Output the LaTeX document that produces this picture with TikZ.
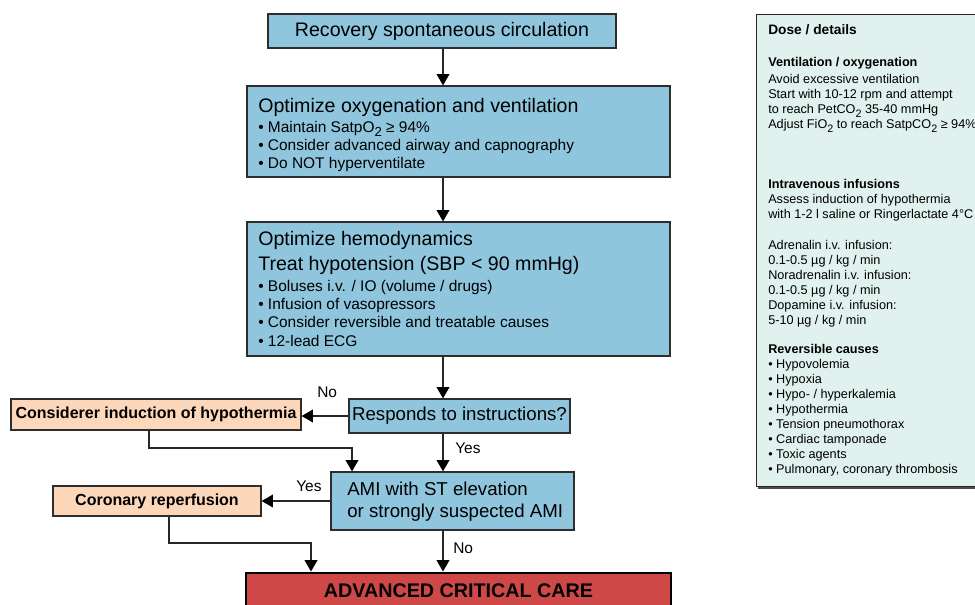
\documentclass[tikz,border=0pt]{standalone}
\usepackage{fontspec}
\setmainfont{Liberation Sans}
\usetikzlibrary{arrows.meta,calc}
\definecolor{boxblue}{RGB}{143,198,222}
\definecolor{boxpeach}{RGB}{253,215,186}
\definecolor{accred}{RGB}{207,72,72}
\definecolor{panelmint}{RGB}{225,241,238}
\definecolor{boxline}{RGB}{45,45,45}
\newcommand{\fTitle}{\fontsize{14.7pt}{17pt}\selectfont}
\newcommand{\fDec}{\fontsize{14pt}{16.5pt}\selectfont}
\newcommand{\fBul}{\fontsize{11.6pt}{13.5pt}\selectfont}
\newcommand{\fPan}{\fontsize{9.5pt}{11.4pt}\selectfont}
\newcommand{\fPanBig}{\fontsize{10.3pt}{12pt}\selectfont\bfseries}
\newcommand{\fBoldBox}{\fontsize{12pt}{14pt}\selectfont\bfseries}
\newcommand{\fAcc}{\fontsize{14.8pt}{17pt}\selectfont\bfseries}
\newcommand{\lowsub}[1]{\raisebox{-0.55ex}{\scalebox{0.85}{#1}}}
\begin{document}
\begin{tikzpicture}[x=0.75pt,y=-0.75pt,
  bluebox/.style={draw=boxline,fill=boxblue,line width=0.9pt,inner sep=0pt},
  peachbox/.style={draw=boxline,fill=boxpeach,line width=0.9pt,inner sep=0pt},
  arr/.style={draw=black!85,line width=1.1pt,-{Triangle[length=8.5pt,width=9.5pt,color=black]}},
  ln/.style={anchor=base west,inner sep=0pt},
  lbl/.style={ln,font=\fBul},
  ptxt/.style={ln,font=\fPan},
  phead/.style={ln,font=\fPan\bfseries}]
\useasboundingbox (0,0) rectangle (975,604);
\clip (0,0) rectangle (975,604);

% right panel
\fill[black!70] (758,16) rectangle (995,489);
\node[draw=black!85,fill=panelmint,line width=0.8pt,anchor=north west,inner sep=0pt,
  minimum width=180pt,minimum height=354pt] (panel) at (756,14) {};
\node[ln,font=\fPanBig] (d0) at (768,34) {Dose / details};
\node[phead] (d1) at (768,66) {Ventilation / oxygenation};
\node[ptxt] (d2) at (768,83) {Avoid excessive ventilation};
\node[ptxt] (d3) at (768,98.2) {Start with 10-12 rpm and attempt};
\node[ptxt] (d4) at (768,113.4) {to reach PetCO\lowsub{2} 35-40 mmHg};
\node[ptxt] (d5) at (768,128.6) {Adjust FiO\lowsub{2} to reach SatpCO\lowsub{2} ≥ 94\%};
\node[phead] (d6) at (768,188) {Intravenous infusions};
\node[ptxt] (d7) at (768,203) {Assess induction of hypothermia};
\node[ptxt] (d8) at (768,218.5) {with 1-2 l saline or Ringerlactate 4°C};
\node[ptxt] (d9) at (768,249) {Adrenalin i.v. infusion:};
\node[ptxt] (d10) at (768,264) {0.1-0.5 µg / kg / min};
\node[ptxt] (d11) at (768,279) {Noradrenalin i.v. infusion:};
\node[ptxt] (d12) at (768,294) {0.1-0.5 µg / kg / min};
\node[ptxt] (d13) at (768,309) {Dopamine i.v. infusion:};
\node[ptxt] (d14) at (768,324) {5-10 µg / kg / min};
\node[phead] (d15) at (768,353) {Reversible causes};
\node[ptxt] (r1) at (768,368) {• Hypovolemia};
\node[ptxt] (r2) at (768,383) {• Hypoxia};
\node[ptxt] (r3) at (768,398) {• Hypo- / hyperkalemia};
\node[ptxt] (r4) at (768,413) {• Hypothermia};
\node[ptxt] (r5) at (768,428) {• Tension pneumothorax};
\node[ptxt] (r6) at (768,443) {• Cardiac tamponade};
\node[ptxt] (r7) at (768,458) {• Toxic agents};
\node[ptxt] (r8) at (768,473) {• Pulmonary, coronary thrombosis};

% main boxes
\node[bluebox,minimum width=261pt,minimum height=25.5pt,font=\fTitle] (rsc) at (442,31) {Recovery spontaneous circulation};

\node[bluebox,minimum width=317.25pt,minimum height=68.25pt] (oxy) at (458.5,131.5) {};
\node[ln,font=\fTitle] (oxyT) at (258,112) {Optimize oxygenation and ventilation};
\node[lbl] (oxy1) at (258,132) {• Maintain SatpO\lowsub{2} ≥ 94\%};
\node[lbl] (oxy2) at (258,150) {• Consider advanced airway and capnography};
\node[lbl] (oxy3) at (258,168) {• Do NOT hyperventilate};

\node[bluebox,minimum width=317.25pt,minimum height=100.5pt] (hem) at (458.5,289) {};
\node[ln,font=\fTitle] (hemT1) at (258,245) {Optimize hemodynamics};
\node[ln,font=\fTitle] (hemT2) at (258,270) {Treat hypotension (SBP < 90 mmHg)};
\node[lbl] (hem1) at (258,291) {• Boluses i.v. / IO (volume / drugs)};
\node[lbl] (hem2) at (258,309.3) {• Infusion of vasopressors};
\node[lbl] (hem3) at (258,327.6) {• Consider reversible and treatable causes};
\node[lbl] (hem4) at (258,346) {• 12-lead ECG};

\node[bluebox,minimum width=165.75pt,minimum height=25.5pt,font=\fDec] (resp) at (459.5,416) {Responds to instructions?};

\node[bluebox,minimum width=182.25pt,minimum height=43.5pt] (ami) at (452.5,501) {};
\node[ln,font=\fDec] (amiT1) at (347,495) {AMI with ST elevation};
\node[ln,font=\fDec] (amiT2) at (347,517) {or strongly suspected AMI};

\node[peachbox,minimum width=217.5pt,minimum height=23.25pt,font=\fBoldBox] (hyp) at (156,414.5) {Considerer induction of hypothermia};
\node[peachbox,minimum width=156pt,minimum height=22.5pt,font=\fBoldBox] (cor) at (157,501) {Coronary reperfusion};

\node[draw=black,fill=accred,line width=2.2pt,minimum width=318.75pt,minimum height=37.5pt,inner sep=0pt] (acc) at (458.5,598) {};
\node[anchor=base,inner sep=0pt,font=\fAcc] (accT) at (458.5,597) {ADVANCED CRITICAL CARE};

% connectors
\coordinate (mx) at (443,0);
\draw[arr] (rsc.south -| mx) -- (oxy.north -| mx);
\draw[arr] (oxy.south -| mx) -- (hem.north -| mx);
\draw[arr] (hem.south -| mx) -- (resp.north -| mx);
\draw[arr] (resp.south -| mx) -- (ami.north -| mx);
\draw[arr] (ami.south -| mx) -- (acc.north -| mx);
\draw[arr] (resp.west) -- (resp.west -| hyp.east);
\draw[arr] (ami.west) -- (ami.west -| cor.east);
\coordinate (h1) at (149,448);
\coordinate (h2) at (352,448);
\draw[arr] (hyp.south -| h1) -- (h1) -- (h2) -- (ami.north -| h2);
\coordinate (c1) at (169,543);
\coordinate (c2) at (311,543);
\draw[arr] (cor.south -| c1) -- (c1) -- (c2) -- (acc.north -| c2);

% labels
\node[lbl] (no1) at (317,397) {No};
\node[lbl] (yes1) at (455,453) {Yes};
\node[lbl] (yes2) at (296,491) {Yes};
\node[lbl] (no2) at (453,553) {No};
\end{tikzpicture}
\end{document}
